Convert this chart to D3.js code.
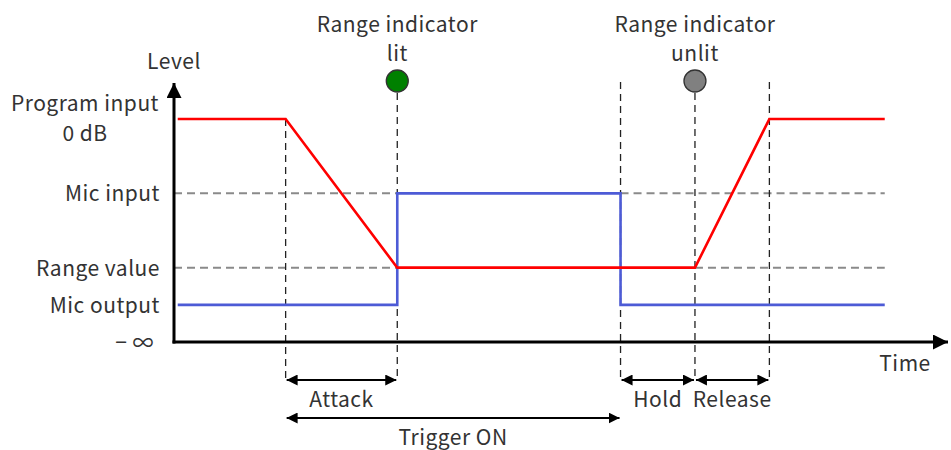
<!DOCTYPE html>
<html>
<head>
<meta charset="utf-8">
<script src="https://cdn.jsdelivr.net/npm/d3@7"></script>
<style>
html,body{margin:0;padding:0;background:#fff;}
svg{display:block;}
text{font-family:"Noto Sans CJK JP","Noto Sans",sans-serif;fill:#333;letter-spacing:0.5px;}
</style>
</head>
<body>
<svg id="chart" width="951" height="450"></svg>
<script>
// ---- data ----
const levelNames = ["Program input", "Mic input", "Range value", "Mic output", "− ∞"];
const levelValues = [6, 4, 2, 1, 0];
const programSeries = [[0.1, 6], [3, 6], [6, 2], [14, 2], [16, 6], [19.1, 6]];
const micSeries = [[0.1, 1], [6, 1], [6, 4], [12, 4], [12, 1], [19.1, 1]];
const eventNames = ["attackStart", "attackEnd", "holdStart", "releaseStart", "releaseEnd"];
const eventTimes = [3, 6, 12, 14, 16];
const spanLabels = ["Attack", "Hold", "Release", "Trigger ON"];
const spanStarts = [3, 12, 14, 3];
const spanEnds = [6, 14, 16, 12];
const indicatorLabels = [["Range indicator", "lit"], ["Range indicator", "unlit"]];
const indicatorTimes = [6, 14];
const indicatorColors = ["#008000", "#808080"];

const FS = 21;

// ---- scales ----
const x = d3.scaleLinear().domain([0, 20.8]).range([174, 948]);
const y = d3.scaleLinear().domain([0, 6]).range([342, 119]);
const svg = d3.select("#chart");

const defs = svg.append("defs");
function marker(id, orient) {
  defs.append("marker").attr("id", id).attr("viewBox", "0 0 10 10")
    .attr("refX", 10).attr("refY", 5).attr("markerWidth", 5.5).attr("markerHeight", 5.5)
    .attr("markerUnits", "strokeWidth").attr("orient", orient)
    .append("path").attr("d", "M0,0 L10,5 L0,10 z").attr("fill", "#000");
}
marker("arr", "auto");
marker("arrStart", "auto-start-reverse");
defs.append("marker").attr("id", "axArr").attr("viewBox", "0 0 10 10")
  .attr("refX", 10).attr("refY", 5).attr("markerWidth", 5).attr("markerHeight", 5)
  .attr("markerUnits", "strokeWidth").attr("orient", "auto")
  .append("path").attr("d", "M0,0 L10,5 L0,10 z").attr("fill", "#000");

// ---- horizontal dashed reference lines ----
const hDashes = [[4, 0, 6], [4, 12, 19.1], [2, 0, 6], [2, 14, 19.1]];
svg.append("g").selectAll("line").data(hDashes).join("line")
  .attr("x1", d => x(d[1])).attr("x2", d => x(d[2]))
  .attr("y1", d => y(d[0])).attr("y2", d => y(d[0]))
  .attr("stroke", "#8a8a8a").attr("stroke-width", 2).attr("stroke-dasharray", "8,5");

// ---- vertical dashed event lines ----
const vTops = [y(6), 93, 82, 93, 82];
svg.append("g").selectAll("line").data(eventTimes).join("line")
  .attr("x1", d => x(d)).attr("x2", d => x(d))
  .attr("y1", (d, i) => vTops[i]).attr("y2", 380)
  .attr("stroke", "#222").attr("stroke-width", 1.3).attr("stroke-dasharray", "7,5");

// ---- series ----
const line = d3.line().x(d => x(d[0])).y(d => y(d[1]));
svg.append("path").attr("d", line(micSeries)).attr("fill", "none")
  .attr("stroke", "#4d5bd6").attr("stroke-width", 2.6);
svg.append("path").attr("d", line(programSeries)).attr("fill", "none")
  .attr("stroke", "#ff0000").attr("stroke-width", 2.6);

// ---- axes ----
svg.append("line").attr("x1", x(0)).attr("x2", x(0)).attr("y1", y(0) + 1.5).attr("y2", 83)
  .attr("stroke", "#000").attr("stroke-width", 3).attr("marker-end", "url(#axArr)");
svg.append("line").attr("x1", x(0) - 1.5).attr("x2", 948).attr("y1", y(0)).attr("y2", y(0))
  .attr("stroke", "#000").attr("stroke-width", 3).attr("marker-end", "url(#axArr)");

svg.append("text").attr("x", x(0)).attr("y", 69).attr("text-anchor", "middle")
  .attr("font-size", FS).text("Level");
svg.append("text").attr("x", 905).attr("y", 371).attr("text-anchor", "middle")
  .attr("font-size", FS).text("Time");

// ---- level labels ----
const lbl = svg.append("g");
levelNames.forEach((n, i) => {
  const yy = y(levelValues[i]);
  if (i === 0) {
    lbl.append("text").attr("x", 85).attr("y", yy - 8).attr("text-anchor", "middle")
      .attr("font-size", FS).text(n);
    lbl.append("text").attr("x", 85).attr("y", yy + 22).attr("text-anchor", "middle")
      .attr("font-size", FS).text("0 dB");
  } else {
    lbl.append("text").attr("x", i === 4 ? 154 : 160).attr("y", yy + 8).attr("text-anchor", "end")
      .attr("font-size", FS).text(n);
  }
});

// ---- indicators ----
indicatorTimes.forEach((t, i) => {
  svg.append("circle").attr("cx", x(t)).attr("cy", 81).attr("r", 11)
    .attr("fill", indicatorColors[i]).attr("stroke", "#333").attr("stroke-width", 1.3);
  svg.append("text").attr("x", x(t)).attr("y", 32).attr("text-anchor", "middle")
    .attr("font-size", FS).text(indicatorLabels[i][0]);
  svg.append("text").attr("x", x(t)).attr("y", 61).attr("text-anchor", "middle")
    .attr("font-size", FS).text(indicatorLabels[i][1]);
});

// ---- span arrows ----
spanLabels.forEach((s, i) => {
  const ay = i === 3 ? 418 : 380;
  svg.append("line").attr("x1", x(spanStarts[i]) + 1).attr("x2", x(spanEnds[i]) - 1)
    .attr("y1", ay).attr("y2", ay).attr("stroke", "#000").attr("stroke-width", 2)
    .attr("marker-start", "url(#arrStart)").attr("marker-end", "url(#arr)");
  svg.append("text").attr("x", (x(spanStarts[i]) + x(spanEnds[i])) / 2)
    .attr("y", i === 3 ? 445 : 407).attr("text-anchor", "middle")
    .attr("font-size", FS).text(s);
});
</script>
</body>
</html>
